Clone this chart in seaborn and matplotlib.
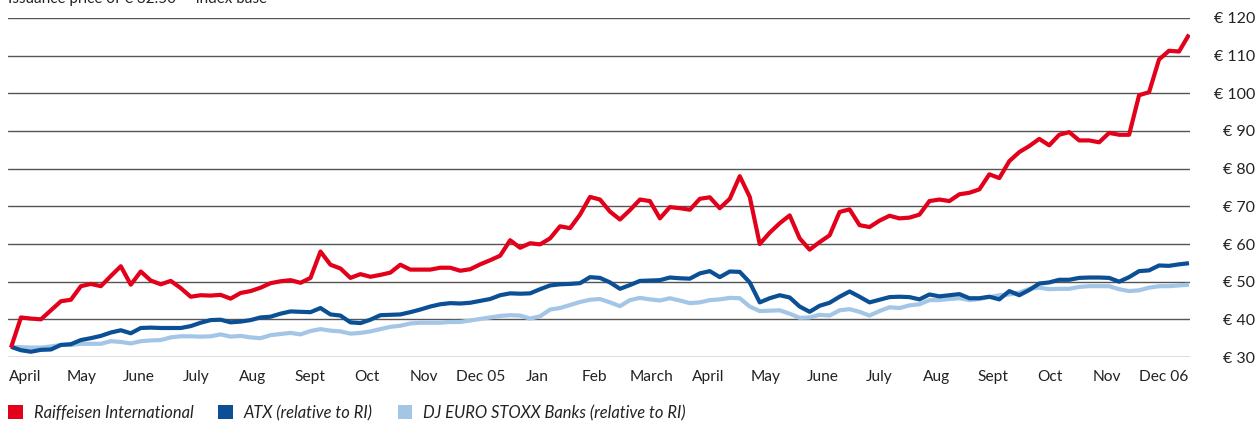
import numpy as np
import pandas as pd
import matplotlib
matplotlib.use("Agg")
import matplotlib.pyplot as plt
from matplotlib.patches import Patch
import seaborn as sns

# ---------------- data (one sample every ~10 px) ----------------
series_names = ["Raiffeisen International", "ATX (relative to RI)", "DJ EURO STOXX Banks (relative to RI)"]

raiffeisen = [
    32.5, 40.5, 40.2, 40.0, 42.4, 44.8, 45.2, 48.8, 49.4, 48.8,
    51.5, 54.1, 49.2, 52.7, 50.3, 49.3, 50.2, 48.3, 46.0, 46.4,
    46.3, 46.5, 45.5, 47.0, 47.5, 48.4, 49.6, 50.1, 50.4, 49.7,
    51.0, 58.0, 54.5, 53.5, 51.0, 52.0, 51.3, 51.8, 52.4, 54.5,
    53.2, 53.2, 53.2, 53.7, 53.7, 52.9, 53.3, 54.6, 55.7, 56.9,
    61.0, 59.0, 60.2, 59.9, 61.5, 64.7, 64.2, 67.8, 72.5, 71.8,
    68.6, 66.5, 69.0, 71.8, 71.4, 66.8, 69.8, 69.5, 69.1, 72.0,
    72.4, 69.5, 72.0, 78.0, 72.5, 60.0, 63.0, 65.5, 67.6, 61.5,
    58.5, 60.5, 62.3, 68.5, 69.2, 65.0, 64.5, 66.2, 67.5, 66.8,
    67.0, 67.8, 71.4, 71.8, 71.4, 73.2, 73.6, 74.5, 78.5, 77.5,
    82.0, 84.4, 86.0, 87.9, 86.2, 89.0, 89.7, 87.5, 87.5, 87.0,
    89.5, 89.0, 89.0, 99.5, 100.3, 109.0, 111.3, 111.1, 115.6,
]

atx = [
    32.7, 31.8, 31.4, 31.9, 32.0, 33.2, 33.4, 34.5, 35.0, 35.6,
    36.5, 37.1, 36.3, 37.7, 37.8, 37.7, 37.7, 37.7, 38.2, 39.1,
    39.8, 39.9, 39.2, 39.4, 39.8, 40.5, 40.7, 41.5, 42.1, 42.0,
    41.9, 43.0, 41.3, 41.0, 39.2, 39.0, 39.9, 41.1, 41.2, 41.3,
    41.9, 42.6, 43.4, 44.0, 44.3, 44.2, 44.4, 44.9, 45.4, 46.4,
    46.9, 46.8, 46.9, 48.0, 49.0, 49.3, 49.4, 49.6, 51.2, 51.0,
    49.8, 48.1, 49.1, 50.2, 50.3, 50.4, 51.1, 50.9, 50.8, 52.2,
    52.8, 51.2, 52.7, 52.6, 49.8, 44.5, 45.6, 46.4, 45.8, 43.4,
    42.0, 43.6, 44.4, 46.0, 47.4, 46.0, 44.5, 45.2, 45.9, 46.0,
    45.9, 45.3, 46.6, 46.1, 46.4, 46.7, 45.6, 45.6, 46.0, 45.3,
    47.5, 46.4, 47.8, 49.5, 49.8, 50.5, 50.5, 51.0, 51.1, 51.1,
    51.0, 50.0, 51.2, 52.8, 53.0, 54.3, 54.2, 54.6, 54.9,
]

stoxx_banks = [
    32.7, 32.6, 32.5, 32.5, 32.8, 33.2, 33.2, 33.5, 33.5, 33.5,
    34.2, 34.0, 33.6, 34.2, 34.4, 34.5, 35.2, 35.5, 35.5, 35.4,
    35.5, 36.0, 35.4, 35.6, 35.2, 35.0, 35.8, 36.1, 36.4, 36.0,
    36.9, 37.4, 37.0, 36.8, 36.2, 36.4, 36.8, 37.4, 38.0, 38.3,
    38.9, 39.1, 39.1, 39.1, 39.3, 39.3, 39.7, 40.1, 40.5, 40.9,
    41.1, 41.0, 40.2, 40.8, 42.6, 43.0, 43.8, 44.6, 45.2, 45.4,
    44.5, 43.5, 45.1, 45.7, 45.3, 45.0, 45.6, 45.0, 44.3, 44.5,
    45.1, 45.3, 45.7, 45.6, 43.4, 42.2, 42.3, 42.4, 41.5, 40.4,
    40.5, 41.2, 41.0, 42.4, 42.7, 42.0, 41.0, 42.2, 43.2, 43.0,
    43.7, 44.0, 45.1, 45.1, 45.4, 45.6, 45.1, 45.4, 45.9, 46.4,
    46.6, 47.1, 48.1, 48.4, 48.0, 48.1, 48.1, 48.6, 48.8, 48.8,
    48.8, 48.0, 47.5, 47.7, 48.4, 48.8, 48.8, 49.0, 49.2,
]

month_labels = ["April", "May", "June", "July", "Aug", "Sept", "Oct", "Nov", "Dec 05",
                "Jan", "Feb", "March", "April", "May", "June", "July", "Aug", "Sept",
                "Oct", "Nov", "Dec 06"]

y_ticks = [30, 40, 50, 60, 70, 80, 90, 100, 110, 120]
y_tick_labels = ["€ 30", "€ 40", "€ 50", "€ 60", "€ 70", "€ 80", "€ 90", "€ 100", "€ 110", "€ 120"]

header_text = "Issuance price of € 32.50 — index base"

colors = {series_names[0]: "#E2001A",
          series_names[1]: "#0B4F95",
          series_names[2]: "#A3C6E6"}

# ---------------- build long-form table ----------------
n = len(raiffeisen)
sample = np.arange(n)
df = pd.concat([
    pd.DataFrame({"sample": sample, "value": stoxx_banks, "series": series_names[2]}),
    pd.DataFrame({"sample": sample, "value": atx, "series": series_names[1]}),
    pd.DataFrame({"sample": sample, "value": raiffeisen, "series": series_names[0]}),
], ignore_index=True)

# ---------------- plotting ----------------
sns.set_style("white")
plt.rcParams["font.family"] = ["Lato", "DejaVu Sans"]

fig = plt.figure(figsize=(12.6, 4.23), dpi=100)
ax = fig.add_axes([8 / 1260, 1 - 357 / 423, (1190 - 8) / 1260, (357 - 18) / 423])

for name in [series_names[2], series_names[1], series_names[0]]:
    sns.lineplot(data=df[df["series"] == name], x="sample", y="value",
                 color=colors[name], linewidth=3.0, ax=ax, legend=False,
                 solid_joinstyle="round", solid_capstyle="butt")

ax.set_ylim(30, 120)
ax.set_xlim(-0.3, n - 1 + 0.1)
ax.set_yticks(y_ticks)
ax.set_yticklabels(y_tick_labels)
ax.yaxis.tick_right()
ax.tick_params(axis="y", length=0, pad=47, labelsize=11.5, colors="#222222")
for lbl in ax.get_yticklabels():
    lbl.set_horizontalalignment("right")

ax.set_xticks(np.linspace(1.4, 115.5, len(month_labels)))
ax.set_xticklabels(month_labels)
ax.tick_params(axis="x", length=0, pad=9, labelsize=11.2, colors="#222222")

ax.grid(False)
for v in y_ticks:
    ax.axhline(v, color="#555555", linewidth=1.0, zorder=0)
for s in ax.spines.values():
    s.set_visible(False)
ax.set_xlabel("")
ax.set_ylabel("")

fig.text(8 / 1260, 1 - 3 / 423, header_text, fontsize=11, color="#222222",
         ha="left", va="baseline")

handles = [Patch(facecolor=colors[nm], edgecolor="none", label=nm) for nm in series_names]
leg = fig.legend(handles=handles, loc="center left", bbox_to_anchor=(8 / 1260, 1 - 413 / 423),
                 ncol=3, frameon=False, handlelength=0.9, handleheight=0.9,
                 handletextpad=0.65, columnspacing=1.5, borderaxespad=0.0, borderpad=0.0,
                 prop={"style": "italic", "size": 11.9})
for t in leg.get_texts():
    t.set_color("#222222")

fig.savefig("out.png", dpi=100)
